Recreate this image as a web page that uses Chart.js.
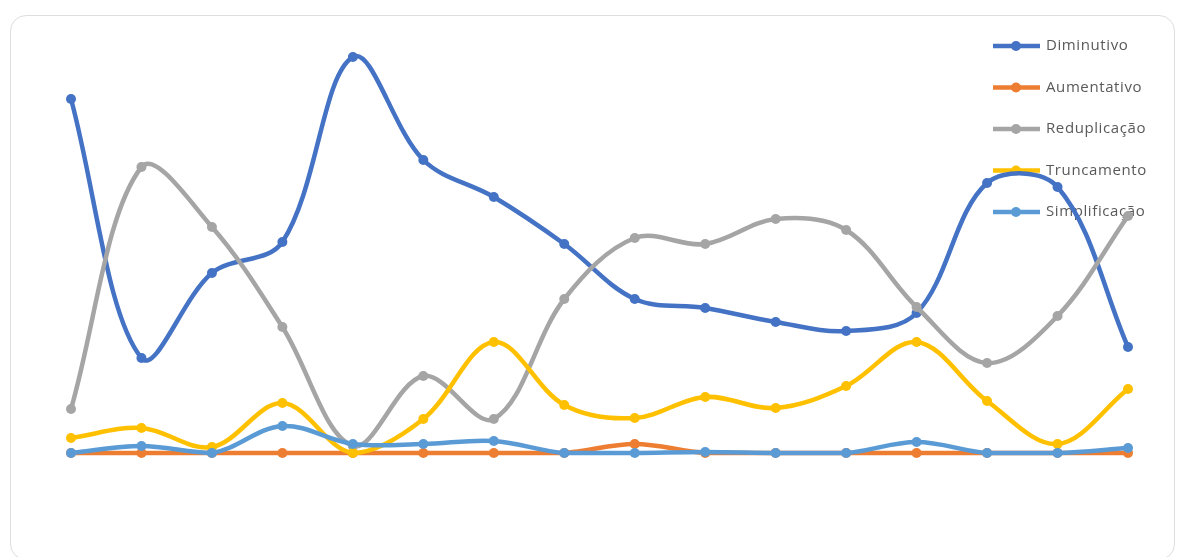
<!DOCTYPE html>
<html>
<head>
<meta charset="utf-8">
<script src="https://cdn.jsdelivr.net/npm/chart.js@4.4.1/dist/chart.umd.min.js"></script>
<style>
  html, body { margin: 0; padding: 0; background: #fff; overflow: hidden; }
  #frame { position: absolute; left: 10px; top: 15px; width: 1165px; height: 545px;
           border: 1px solid #dedede; border-radius: 16px; box-sizing: border-box; }
  #myChart { position: absolute; left: 0; top: 0; }
</style>
</head>
<body>
<div id="frame"></div>
<canvas id="myChart" width="1179" height="557"></canvas>
<script>
// 16 categorias sem rótulo visível
const categorias = ["1","2","3","4","5","6","7","8","9","10","11","12","13","14","15","16"];

const diminutivo   = [88.5, 23.75, 45, 52.75, 99, 73.25, 64, 52.25, 38.5, 36.25, 32.75, 30.5, 35, 67.5, 66.5, 26.5];
const aumentativo  = [0, 0, 0, 0, 0, 0, 0, 0, 2.25, 0, 0, 0, 0, 0, 0, 0];
const reduplicacao = [11, 71.5, 56.5, 31.5, 1.75, 19.25, 8.5, 38.5, 53.75, 52.25, 58.5, 55.75, 36.5, 22.5, 34.25, 59.25];
const truncamento  = [3.75, 6.25, 1.5, 12.5, 0, 8.5, 27.75, 12, 8.75, 14, 11.25, 16.75, 27.75, 13, 2.25, 16];
const simplificacao = [0, 1.75, 0, 6.75, 2.25, 2.25, 3, 0, 0, 0.25, 0, 0, 2.75, 0, 0, 1.25];

const series = [
  {label: "Diminutivo",   data: diminutivo,   cor: "#4472C4"},
  {label: "Aumentativo",  data: aumentativo,  cor: "#ED7D31"},
  {label: "Reduplicação", data: reduplicacao, cor: "#A5A5A5"},
  {label: "Truncamento",  data: truncamento,  cor: "#FFC000"},
  {label: "Simplificação", data: simplificacao, cor: "#5B9BD5"}
];

// legenda desenhada por baixo das linhas, como no original
const legendaExcel = {
  id: 'legendaExcel',
  beforeDatasetsDraw(chart) {
    const ctx = chart.ctx;
    ctx.save();
    chart.data.datasets.forEach((ds, i) => {
      const y = 46 + i * 41.5;
      ctx.strokeStyle = ds.borderColor;
      ctx.lineWidth = 4.5;
      ctx.beginPath();
      ctx.moveTo(993, y);
      ctx.lineTo(1040, y);
      ctx.stroke();
      ctx.fillStyle = ds.borderColor;
      ctx.beginPath();
      ctx.arc(1016, y, 5, 0, Math.PI * 2);
      ctx.fill();
      ctx.fillStyle = '#595959';
      ctx.font = '15px "Open Sans"';
      ctx.letterSpacing = '0.6px';
      ctx.textBaseline = 'middle';
      ctx.fillText(ds.label, 1046, y);
    });
    ctx.restore();
  }
};

const ctx = document.getElementById('myChart').getContext('2d');
const myChart = new Chart(ctx, {
  type: 'line',
  data: {
    labels: categorias,
    datasets: series.map((s, i) => ({
      label: s.label,
      data: s.data,
      borderColor: s.cor,
      backgroundColor: s.cor,
      pointBackgroundColor: s.cor,
      pointBorderColor: s.cor,
      borderWidth: 4.5,
      pointRadius: 5,
      pointBorderWidth: 0,
      tension: 0.35,
      clip: false,
      order: series.length - i
    }))
  },
  options: {
    responsive: false,
    animation: false,
    devicePixelRatio: 1,
    layout: { padding: { left: 71, right: 51, top: 13, bottom: 104 } },
    plugins: {
      legend: { display: false },
      tooltip: { enabled: false }
    },
    scales: {
      x: { display: false, offset: false },
      y: { display: false, min: 0, max: 110 }
    }
  },
  plugins: [legendaExcel]
});
</script>
</body>
</html>
